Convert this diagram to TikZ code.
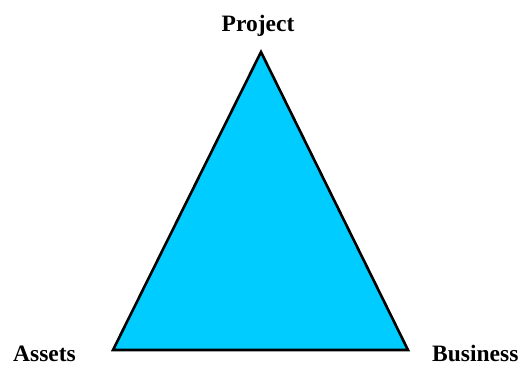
\documentclass[tikz,border=0pt]{standalone}
\usepackage{fontspec}
\setmainfont{Liberation Serif}
\definecolor{tri}{RGB}{0,204,255}
\begin{document}
\begin{tikzpicture}[x=1pt,y=1pt,
  lbl/.style={font=\fontsize{23.5}{28}\selectfont\bfseries, inner sep=0pt}]
\useasboundingbox (0,0) rectangle (527,367);
\coordinate (P) at (261,315);
\coordinate (A) at (113,17);
\coordinate (B) at (408,17);
\draw[fill=tri, line width=2.6pt, line join=miter] (P) -- (A) -- (B) -- cycle;
\node[lbl, anchor=base] (project) at (258,335) {Project};
\node[lbl, anchor=base west] (assets) at (13,6) {Assets};
\node[lbl, anchor=base west] (business) at (432,6) {Business};
\end{tikzpicture}
\end{document}
